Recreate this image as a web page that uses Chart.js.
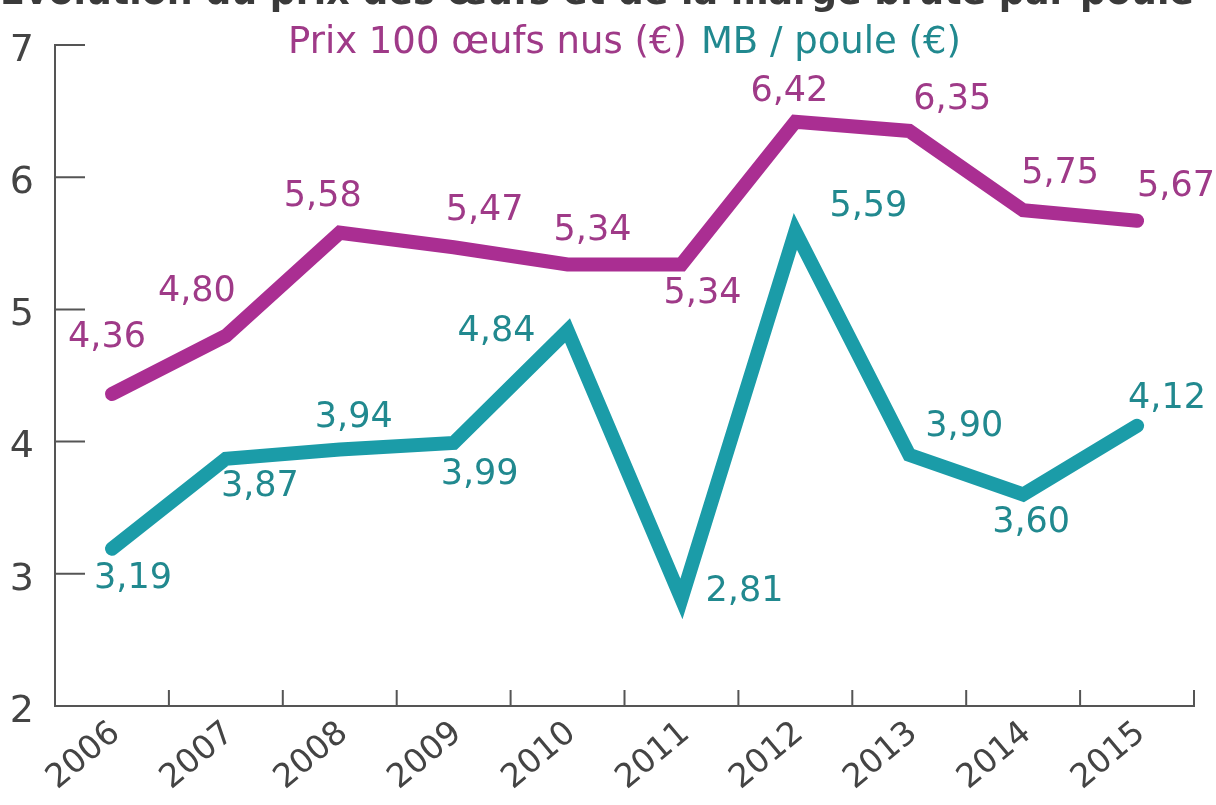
<!DOCTYPE html>
<html lang="fr">
<head>
<meta charset="utf-8">
<title>Prix des œufs et marge brute par poule</title>
<script src="https://cdn.jsdelivr.net/npm/chart.js@4/dist/chart.umd.min.js"></script>
<style>
  html, body { margin: 0; padding: 0; background: #fff; }
  #wrap { width: 1216px; height: 805px; position: relative; }
</style>
</head>
<body>
<div id="wrap"><canvas id="oeufs"></canvas></div>
<script>
// data
const years = ['2006', '2007', '2008', '2009', '2010', '2011', '2012', '2013', '2014', '2015'];
const prixOeufs = [4.36, 4.80, 5.58, 5.47, 5.34, 5.34, 6.42, 6.35, 5.75, 5.67];
const margeBrute = [3.19, 3.87, 3.94, 3.99, 4.84, 2.81, 5.59, 3.90, 3.60, 4.12];
const yTicks = [2, 3, 4, 5, 6, 7];

// where each value label sits relative to its point (dx, dy in px)
const prixLabelPos = [[-5, -56], [-29, -44], [-17, -36], [31, -36], [25, -34], [21, 29], [-6, -30], [43, -31], [37, -36], [39, -34]];
const mbLabelPos = [[21, 30], [34, 28], [14, -32], [26, 32], [-71, 1], [63, -7], [73, -24], [55, -28], [8, 28], [30, -27]];

const MAGENTA = '#aa2e92';
const MAGENTA_TXT = '#9f3a88';
const TEAL = '#1b9ca8';
const TEAL_TXT = '#21898f';
const AXIS = '#555';
const FONT = "'DejaVu Sans', sans-serif";

const fmt = v => v.toFixed(2).replace('.', ',');

// inward tick marks on both axes
const innerTicks = {
    id: 'innerTicks',
    afterDraw(chart) {
        const {ctx, chartArea, scales} = chart;
        ctx.save();
        ctx.strokeStyle = AXIS;
        ctx.lineWidth = 2;
        ctx.beginPath();
        scales.y.ticks.forEach((t, i) => {
            const py = scales.y.getPixelForTick(i);
            ctx.moveTo(chartArea.left, py);
            ctx.lineTo(chartArea.left + 30, py);
        });
        for (let i = 1; i <= years.length; i++) {
            const px = scales.x.getPixelForValue(i - 0.5);
            ctx.moveTo(px, chartArea.bottom);
            ctx.lineTo(px, chartArea.bottom - 16);
        }
        ctx.stroke();
        ctx.restore();
    }
};

// value labels next to each point
const valueLabels = {
    id: 'valueLabels',
    afterDatasetsDraw(chart) {
        const ctx = chart.ctx;
        ctx.save();
        ctx.font = '35px ' + FONT;
        ctx.textAlign = 'center';
        ctx.textBaseline = 'middle';
        chart.data.datasets.forEach((ds, di) => {
            const meta = chart.getDatasetMeta(di);
            const pos = di === 0 ? prixLabelPos : mbLabelPos;
            ctx.fillStyle = di === 0 ? MAGENTA_TXT : TEAL_TXT;
            meta.data.forEach((pt, i) => {
                ctx.fillText(fmt(ds.data[i]), pt.x + pos[i][0], pt.y + pos[i][1]);
            });
        });
        ctx.restore();
    }
};

// text-only legend that overlaps the top of the plot, as in the original
const textLegend = {
    id: 'textLegend',
    afterDraw(chart) {
        const {ctx, chartArea} = chart;
        const gap = 14;
        ctx.save();
        ctx.font = '37px ' + FONT;
        ctx.textBaseline = 'middle';
        ctx.textAlign = 'left';
        const items = chart.data.datasets.map(ds => ({text: ds.label, color: ds.textColor, w: ctx.measureText(ds.label).width}));
        const total = items.reduce((s, it) => s + it.w, 0) + gap * (items.length - 1);
        let x = (chartArea.left + chartArea.right) / 2 - total / 2;
        items.forEach(it => {
            ctx.fillStyle = it.color;
            ctx.fillText(it.text, x, 43);
            x += it.w + gap;
        });
        ctx.restore();
    }
};

const data = {
    labels: years,
    datasets: [
        {
            label: 'Prix 100 œufs nus (€)',
            data: prixOeufs,
            borderColor: MAGENTA,
            textColor: MAGENTA_TXT,
            borderWidth: 14,
            borderCapStyle: 'round',
            borderJoinStyle: 'miter',
            pointRadius: 0,
            tension: 0,
            clip: false
        },
        {
            label: 'MB / poule (€)',
            data: margeBrute,
            borderColor: TEAL,
            textColor: TEAL_TXT,
            borderWidth: 14,
            borderCapStyle: 'round',
            borderJoinStyle: 'miter',
            pointRadius: 0,
            tension: 0,
            clip: false
        }
    ]
};

const config = {
    type: 'line',
    data: data,
    options: {
        responsive: true,
        maintainAspectRatio: false,
        animation: false,
        layout: { padding: { top: 0, right: 22, bottom: 0, left: 0 } },
        plugins: {
            title: {
                display: true,
                text: 'Evolution du prix des œufs et de la marge brute par poule',
                color: '#3a3a3a',
                font: { family: FONT, size: 38, weight: 'bold' },
                padding: { top: -29, bottom: 28.4 }
            },
            legend: { display: false },
            tooltip: { enabled: false }
        },
        scales: {
            x: {
                offset: true,
                grid: { display: false, drawTicks: false },
                border: { display: true, color: AXIS, width: 2 },
                ticks: {
                    autoSkip: false,
                    maxRotation: 40,
                    minRotation: 40,
                    padding: 8,
                    labelOffset: 4,
                    color: '#444',
                    font: { family: FONT, size: 33 }
                },
                afterFit(scale) { scale.height = 99; }
            },
            y: {
                min: yTicks[0],
                max: yTicks[yTicks.length - 1],
                grid: { display: false, drawTicks: false },
                border: { display: true, color: AXIS, width: 2 },
                ticks: {
                    stepSize: 1,
                    padding: 21,
                    labelOffset: 6,
                    color: '#444',
                    font: { family: FONT, size: 38 }
                },
                afterFit(scale) { scale.width = 55; }
            }
        }
    },
    plugins: [innerTicks, valueLabels, textLegend]
};

new Chart(document.getElementById('oeufs').getContext('2d'), config);
</script>
</body>
</html>
